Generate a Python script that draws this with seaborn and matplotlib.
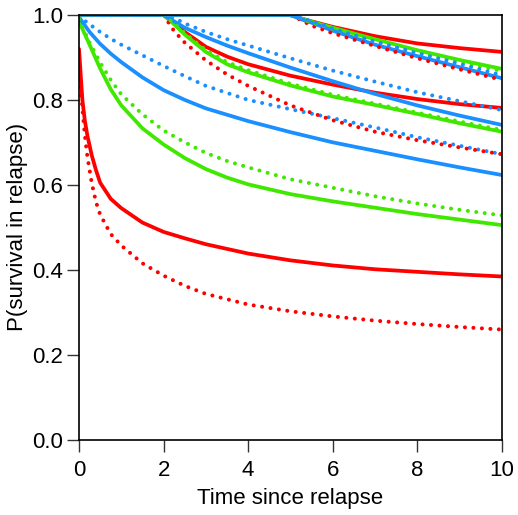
import pandas as pd
import seaborn as sns
import matplotlib.pyplot as plt

# survival curves, one per relapse start time (0, 2, 5)
# start at 0
t0_red = [0, 0.04, 0.08, 0.14, 0.2, 0.3, 0.4, 0.5, 0.75, 1, 1.5, 2, 2.5, 3, 4, 5, 6, 7, 8, 9, 10]
red0_solid = [0.92, 0.86, 0.80, 0.75, 0.715, 0.67, 0.635, 0.605, 0.567, 0.545, 0.511, 0.489, 0.474,
              0.46, 0.438, 0.422, 0.41, 0.401, 0.395, 0.389, 0.384]
red0_dot = [0.89, 0.83, 0.78, 0.715, 0.665, 0.605, 0.56, 0.53, 0.484, 0.457, 0.415, 0.386, 0.362,
            0.343, 0.318, 0.302, 0.290, 0.280, 0.272, 0.265, 0.259]

t0_green = [0, 0.25, 0.5, 0.75, 1, 1.5, 2, 2.5, 3, 3.5, 4, 5, 6, 7, 8, 9, 10]
green0_solid = [0.985, 0.93, 0.874, 0.825, 0.787, 0.733, 0.695, 0.663, 0.637, 0.617, 0.601, 0.578,
                0.561, 0.546, 0.531, 0.518, 0.505]
green0_dot = [0.99, 0.935, 0.888, 0.847, 0.813, 0.766, 0.728, 0.700, 0.675, 0.656, 0.641, 0.613,
              0.593, 0.573, 0.556, 0.541, 0.528]

t0_blue = [0, 0.25, 0.5, 0.75, 1, 1.5, 2, 2.5, 3, 4, 5, 6, 7, 8, 9, 10]
blue0_solid = [0.995, 0.96, 0.932, 0.909, 0.889, 0.853, 0.823, 0.80, 0.78, 0.75, 0.724, 0.70, 0.68,
               0.66, 0.641, 0.623]
blue0_dot = [0.997, 0.978, 0.96, 0.944, 0.93, 0.905, 0.88, 0.856, 0.833, 0.80, 0.778, 0.757, 0.735,
             0.712, 0.692, 0.672]

# start at 2
t2 = [0, 2, 2.25, 2.5, 3, 3.5, 4, 5, 6, 7, 8, 9, 10]
red2_solid = [1.0, 1.0, 0.98, 0.96, 0.925, 0.902, 0.884, 0.857, 0.836, 0.817, 0.802, 0.79, 0.781]
red2_dot = [1.0, 1.0, 0.962, 0.935, 0.893, 0.86, 0.833, 0.787, 0.752, 0.725, 0.705, 0.688, 0.672]
green2_solid = [1.0, 1.0, 0.978, 0.954, 0.913, 0.884, 0.865, 0.834, 0.808, 0.788, 0.767, 0.745, 0.725]
green2_dot = [1.0, 1.0, 0.98, 0.957, 0.917, 0.889, 0.87, 0.838, 0.812, 0.791, 0.77, 0.749, 0.729]
blue2_solid = [1.0, 1.0, 0.985, 0.97, 0.948, 0.928, 0.91, 0.876, 0.844, 0.814, 0.787, 0.763, 0.741]
blue2_dot = [1.0, 1.0, 0.993, 0.98, 0.96, 0.943, 0.928, 0.898, 0.869, 0.843, 0.818, 0.797, 0.776]

# start at 5
t5 = [0, 5, 5.25, 5.5, 6, 7, 8, 9, 10]
red5_solid = [1.0, 1.0, 0.992, 0.985, 0.972, 0.95, 0.933, 0.922, 0.913]
red5_dot = [1.0, 1.0, 0.988, 0.975, 0.957, 0.927, 0.898, 0.872, 0.847]
green5_solid = [1.0, 1.0, 0.992, 0.984, 0.97, 0.943, 0.917, 0.894, 0.873]
green5_dot = [1.0, 1.0, 0.991, 0.982, 0.967, 0.94, 0.914, 0.89, 0.868]
blue5_solid = [1.0, 1.0, 0.99, 0.982, 0.963, 0.93, 0.903, 0.877, 0.851]
blue5_dot = [1.0, 1.0, 0.993, 0.985, 0.968, 0.937, 0.91, 0.885, 0.858]

RED = "#ff0000"
GREEN = "#40e800"
BLUE = "#1a8fff"

curves = [
    (t0_red, red0_solid, RED, "solid"),
    (t0_green, green0_solid, GREEN, "solid"),
    (t0_blue, blue0_solid, BLUE, "solid"),
    (t2, red2_solid, RED, "solid"),
    (t2, green2_solid, GREEN, "solid"),
    (t2, blue2_solid, BLUE, "solid"),
    (t5, red5_solid, RED, "solid"),
    (t5, green5_solid, GREEN, "solid"),
    (t5, blue5_solid, BLUE, "solid"),
    (t0_red, red0_dot, RED, "dot"),
    (t0_green, green0_dot, GREEN, "dot"),
    (t0_blue, blue0_dot, BLUE, "dot"),
    (t2, red2_dot, RED, "dot"),
    (t2, green2_dot, GREEN, "dot"),
    (t2, blue2_dot, BLUE, "dot"),
    (t5, red5_dot, RED, "dot"),
    (t5, green5_dot, GREEN, "dot"),
    (t5, blue5_dot, BLUE, "dot"),
]

sns.set_style("ticks")
plt.rcParams['font.family'] = ['Liberation Sans', 'DejaVu Sans']
plt.rcParams['text.color'] = 'black'
plt.rcParams['axes.labelcolor'] = 'black'
plt.rcParams['xtick.color'] = 'black'
plt.rcParams['ytick.color'] = 'black'

fig = plt.figure(figsize=(5.18, 5.15), dpi=100)
ax = fig.add_axes([0.1525, 0.1466, 0.8165, 0.8243])

for t, s, col, kind in curves:
    df = pd.DataFrame({"time": t, "surv": s})
    if kind == "solid":
        sns.lineplot(data=df, x="time", y="surv", color=col, lw=2.7, ax=ax)
    else:
        line = sns.lineplot(data=df, x="time", y="surv", color=col, lw=2.9, ax=ax).lines[-1]
        line.set_dashes((0.01, 2.1))
        line.set_dash_capstyle("round")

ax.set_xlim(0, 10)
ax.set_ylim(0, 1)
ax.set_xticks([0, 2, 4, 6, 8, 10])
ax.set_yticks([0.0, 0.2, 0.4, 0.6, 0.8, 1.0])
ax.set_yticklabels(["0.0", "0.2", "0.4", "0.6", "0.8", "1.0"])
ax.set_xlabel("Time since relapse", fontsize=16, labelpad=5)
ax.set_ylabel("P(survival in relapse)", fontsize=16, labelpad=3)
ax.tick_params(axis="both", direction="out", length=8.5, width=1, labelsize=16,
               color="#333333", labelcolor="black")
ax.tick_params(axis="x", pad=6)
ax.tick_params(axis="y", pad=3)
for sp in ax.spines.values():
    sp.set_visible(True)
    sp.set_linewidth(1.2)
    sp.set_color("black")

fig.savefig("out.png", dpi=100)
